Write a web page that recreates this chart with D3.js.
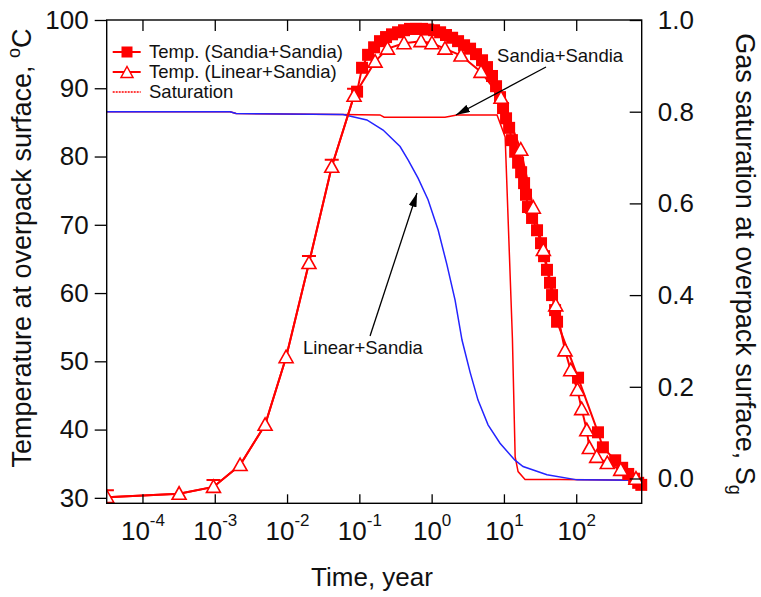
<!DOCTYPE html>
<html><head><meta charset="utf-8">
<script src="https://cdn.jsdelivr.net/npm/d3@7"></script>
<style>body{margin:0;background:#fff}svg{display:block}</style>
</head><body><svg id="c" width="761" height="597"></svg>
<script>
// ---------- data ----------
// Temp. (Linear+Sandia) : triangles
const linTime = [3.22e-5, 3.21e-4, 9.6e-4, 2.24e-3, 4.97e-3, 9.7e-3, 0.0201, 0.0415, 0.0845, 0.165, 0.245, 0.415, 0.713, 1.01, 1.53, 2.55, 4.82, 9.12, 17.1, 25.5, 35.1, 52.1, 70.0, 84.0, 104, 119, 140, 152, 192, 269, 413, 671];
const linTemp = [30.1, 30.6, 31.6, 34.8, 40.7, 50.6, 64.4, 78.5, 88.9, 93.9, 95.8, 96.6, 96.9, 96.6, 95.8, 94.8, 92.4, 88.6, 81.0, 72.5, 66.3, 58.2, 51.6, 48.7, 45.8, 43.0, 39.9, 37.3, 36.0, 35.1, 34.1, 32.8];
// Temp. (Sandia+Sandia) : early part (line only) then squares
const sanEarlyTime = [3.22e-5, 3.21e-4, 9.6e-4, 2.24e-3, 4.97e-3, 9.7e-3, 0.0201, 0.0415, 0.0845];
const sanEarlyTemp = [30.1, 30.6, 31.6, 34.8, 40.7, 50.6, 64.4, 78.5, 88.9];
const capTime = [3.22e-5, 9.6e-4, 0.0201, 0.0415, 0.0845];
const sanTime = [0.093, 0.109, 0.132, 0.160, 0.193, 0.234, 0.283, 0.343, 0.415, 0.502, 0.608, 0.736, 0.892, 1.08, 1.31, 1.58, 1.92, 2.32, 2.81, 3.40, 4.11, 4.98, 5.83, 6.84, 7.78, 8.83, 9.72, 10.7, 11.8, 12.9, 14.3, 15.7, 17.3, 19.0, 20.2, 21.5, 24.5, 28.7, 32.6, 35.9, 39.4, 43.4, 46.3, 51.0, 54.3, 106, 200, 234, 346, 432, 524, 633, 720, 795];
const sanTemp = [89.5, 93.0, 94.9, 96.0, 96.9, 97.5, 97.9, 98.2, 98.5, 98.7, 98.7, 98.7, 98.6, 98.5, 98.2, 97.8, 97.4, 96.9, 96.3, 95.8, 95.0, 94.1, 93.1, 91.8, 90.3, 88.7, 87.1, 85.6, 84.2, 82.4, 80.7, 79.1, 77.7, 76.1, 74.4, 72.6, 71.0, 69.2, 67.3, 65.4, 63.4, 61.5, 59.7, 57.5, 55.8, 47.6, 39.6, 37.4, 35.5, 34.4, 33.5, 32.8, 32.2, 31.9];
// Gas saturation (Sandia+Sandia) red
const satSanTime = [3.2e-5, 1.63e-3, 1.97e-3, 0.054, 0.193, 0.22, 1.53, 2.24, 8.03, 10.4, 13.1, 14.3, 15.7, 19.6, 59.8, 790];
const satSanVal  = [0.800, 0.800, 0.796, 0.794, 0.793, 0.788, 0.788, 0.793, 0.793, 0.745, 0.306, 0.047, 0.015, -0.002, -0.002, -0.004];
// Gas saturation (Linear+Sandia) blue
const satLinTime = [3.2e-5, 1.63e-3, 1.97e-3, 0.0595, 0.127, 0.213, 0.366, 0.472, 0.649, 0.892, 1.23, 1.63, 2.11, 2.63, 3.40, 4.38, 6.03, 8.83, 14.2, 18.4, 39.4, 103, 790];
const satLinVal  = [0.800, 0.800, 0.796, 0.794, 0.782, 0.760, 0.724, 0.695, 0.655, 0.608, 0.542, 0.466, 0.389, 0.302, 0.232, 0.171, 0.117, 0.077, 0.040, 0.026, 0.008, -0.003, -0.004];

const xTicks = [1e-4, 1e-3, 1e-2, 1e-1, 1, 10, 100];
const xExp = ["-4", "-3", "-2", "-1", "0", "1", "2"];
const yLTicks = [30, 40, 50, 60, 70, 80, 90, 100];
const yRTicks = [0, 0.2, 0.4, 0.6, 0.8, 1.0];
const yRLabels = ["0.0", "0.2", "0.4", "0.6", "0.8", "1.0"];
const legendLabels = ["Temp. (Sandia+Sandia)", "Temp. (Linear+Sandia)", "Saturation"];

// ---------- layout ----------
const L = 106.7, R = 641.7, T = 20, B = 503.3;
const FONT = "Arial, 'Liberation Sans', Helvetica, sans-serif";
const RED = "#ff0000", BLUE = "#2424ff";

const svg = d3.select("#c").style("font-family", FONT);
const x = d3.scaleLog().domain([3.2e-5, 805]).range([L, R]);
const yL = d3.scaleLinear().domain([29.2, 100]).range([B, T]);
const yR = d3.scaleLinear().domain([-0.0541, 1.0]).range([B, T]);

const zip = (a, b) => a.map((v, i) => [v, b[i]]);
const lineL = d3.line().x(d => x(d[0])).y(d => yL(d[1]));
const lineR = d3.line().x(d => x(d[0])).y(d => yR(d[1]));

const plot = svg.append("g");
const defs = svg.append("defs");
defs.append("clipPath").attr("id", "clip").append("rect")
  .attr("x", L).attr("y", T - 10).attr("width", R - L + 6).attr("height", B - T + 10);
defs.append("marker").attr("id", "arr").attr("viewBox", "0 0 14 8")
  .attr("refX", 14).attr("refY", 4).attr("markerWidth", 14).attr("markerHeight", 8)
  .attr("markerUnits", "userSpaceOnUse").attr("orient", "auto")
  .append("path").attr("d", "M0,0 L14,4 L0,8 Z").attr("fill", "#000");

const g = plot.append("g").attr("clip-path", "url(#clip)");

// saturation lines (red first, blue on top)
g.append("path").datum(zip(satSanTime, satSanVal)).attr("d", lineR)
  .attr("fill", "none").attr("stroke", RED).attr("stroke-width", 1.5);
g.append("path").datum(zip(satLinTime, satLinVal)).attr("d", lineR)
  .attr("fill", "none").attr("stroke", BLUE).attr("stroke-width", 1.5);

// Sandia temperature line + squares
const sanAll = zip(sanEarlyTime, sanEarlyTemp).concat(zip(sanTime, sanTemp));
g.append("path").datum(sanAll).attr("d", lineL)
  .attr("fill", "none").attr("stroke", RED).attr("stroke-width", 2);
const SQ = 12;
g.selectAll("rect.sq").data(zip(sanTime, sanTemp)).join("rect").attr("class", "sq")
  .attr("x", d => x(d[0]) - SQ / 2).attr("y", d => yL(d[1]) - SQ / 2)
  .attr("width", SQ).attr("height", SQ).attr("fill", RED);

// Linear temperature line + triangles
g.append("path").datum(zip(linTime, linTemp)).attr("d", lineL)
  .attr("fill", "none").attr("stroke", RED).attr("stroke-width", 2);
const tri = "M0,-7 L7,5.5 L-7,5.5 Z";
g.selectAll("path.tri").data(zip(linTime, linTemp)).join("path").attr("class", "tri")
  .attr("transform", d => `translate(${x(d[0])},${yL(d[1])})`)
  .attr("d", tri).attr("fill", "#fff").attr("stroke", RED).attr("stroke-width", 1.6);
// caps (Sandia markers hidden behind triangles at early times)
const capVal = capTime.map(t => sanEarlyTemp[sanEarlyTime.indexOf(t)]);
g.selectAll("path.cap").data(zip(capTime, capVal)).join("path").attr("class", "cap")
  .attr("transform", d => `translate(${x(d[0])},${yL(d[1])})`)
  .attr("d", "M-7,-7 H7").attr("stroke", RED).attr("stroke-width", 2);

// ---------- axes ----------
const axL = svg.append("g").attr("transform", `translate(${L},0)`)
  .call(d3.axisLeft(yL).tickValues(yLTicks).tickSize(12).tickPadding(6).tickFormat(d3.format("d")));
const axR = svg.append("g").attr("transform", `translate(${R},0)`)
  .call(d3.axisRight(yR).tickValues(yRTicks).tickSizeInner(-12).tickSizeOuter(0).tickPadding(16)
    .tickFormat((d, i) => yRLabels[i]));
const axB = svg.append("g").attr("transform", `translate(0,${B})`)
  .call(d3.axisBottom(x).tickValues(xTicks).tickSizeInner(-9).tickSizeOuter(0).tickFormat(""));
const axT = svg.append("g").attr("transform", `translate(0,${T})`)
  .call(d3.axisTop(x).tickValues(xTicks).tickSizeInner(-11).tickSizeOuter(0).tickFormat(""));
[axL, axR, axB, axT].forEach(a => {
  a.selectAll(".domain").remove();
  a.selectAll("line").attr("stroke", "#000").attr("stroke-width", 1.3);
  a.selectAll("text").attr("fill", "#111").style("font-size", "26px").style("font-family", FONT);
});
// x labels 10^n
axB.selectAll(".tick").each(function (d, i) {
  const t = d3.select(this).append("text").attr("y", 37).attr("text-anchor", "middle")
    .attr("fill", "#111").style("font-size", "26px").style("font-family", FONT);
  t.append("tspan").text("10");
  t.append("tspan").attr("dy", -14).style("font-size", "17px").text(xExp[i]);
});
// frame
svg.append("rect").attr("x", L).attr("y", T).attr("width", R - L).attr("height", B - T)
  .attr("fill", "none").attr("stroke", "#000").attr("stroke-width", 1.4);

// ---------- titles ----------
const lt = svg.append("text").attr("transform", "translate(31,248) rotate(-90)")
  .attr("text-anchor", "middle").attr("fill", "#111").style("font-size", "27px");
lt.append("tspan").text("Temperature at overpack surface, ");
lt.append("tspan").attr("dy", -11).style("font-size", "18px").text("o");
lt.append("tspan").attr("dy", 11).text("C");

const rt = svg.append("text").attr("transform", "translate(736,264) rotate(90)")
  .attr("text-anchor", "middle").attr("fill", "#111").style("font-size", "27px");
rt.append("tspan").text("Gas saturation at overpack surface, S");
rt.append("tspan").attr("dy", 7).style("font-size", "18px").text("g");

svg.append("text").attr("x", 372).attr("y", 586).attr("text-anchor", "middle")
  .attr("fill", "#111").style("font-size", "26px").text("Time, year");

// ---------- legend ----------
const lg = svg.append("g");
const rowY = [52, 72, 92];
legendLabels.forEach((lab, i) => {
  const row = lg.append("g").attr("transform", `translate(0,${rowY[i]})`);
  const ln = row.append("line").attr("x1", 112.7).attr("x2", 140.7).attr("y1", 0).attr("y2", 0)
    .attr("stroke", RED).attr("stroke-width", i === 2 ? 1.6 : 2);
  if (i === 2) ln.attr("stroke-dasharray", "2,1");
  if (i === 0) row.append("rect").attr("x", 127 - 5.5).attr("y", -5.5).attr("width", 11).attr("height", 11).attr("fill", RED);
  if (i === 1) row.append("path").attr("transform", "translate(127,0.5)").attr("d", "M0,-6 L6,5 L-6,5 Z")
    .attr("fill", "#fff").attr("stroke", RED).attr("stroke-width", 1.5);
  row.append("text").attr("x", 149).attr("dy", "0.35em").attr("fill", "#111")
    .style("font-size", "18.5px").text(lab);
});

// ---------- annotations ----------
const ann = [
  {text: "Sandia+Sandia", tx: 8.04, ty: 93.85, from: [38.2, 93.12], to: [2.17, 86.09]},
  {text: "Linear+Sandia", tx: 0.01664, ty: 51.07, from: [0.1406, 53.7], to: [0.628, 74.66]}
];
ann.forEach(a => {
  svg.append("line").attr("x1", x(a.from[0])).attr("y1", yL(a.from[1]))
    .attr("x2", x(a.to[0])).attr("y2", yL(a.to[1]))
    .attr("stroke", "#000").attr("stroke-width", 1.3).attr("marker-end", "url(#arr)");
  svg.append("text").attr("x", x(a.tx)).attr("y", yL(a.ty)).attr("fill", "#111")
    .style("font-size", "18.5px").text(a.text);
});
</script></body></html>
